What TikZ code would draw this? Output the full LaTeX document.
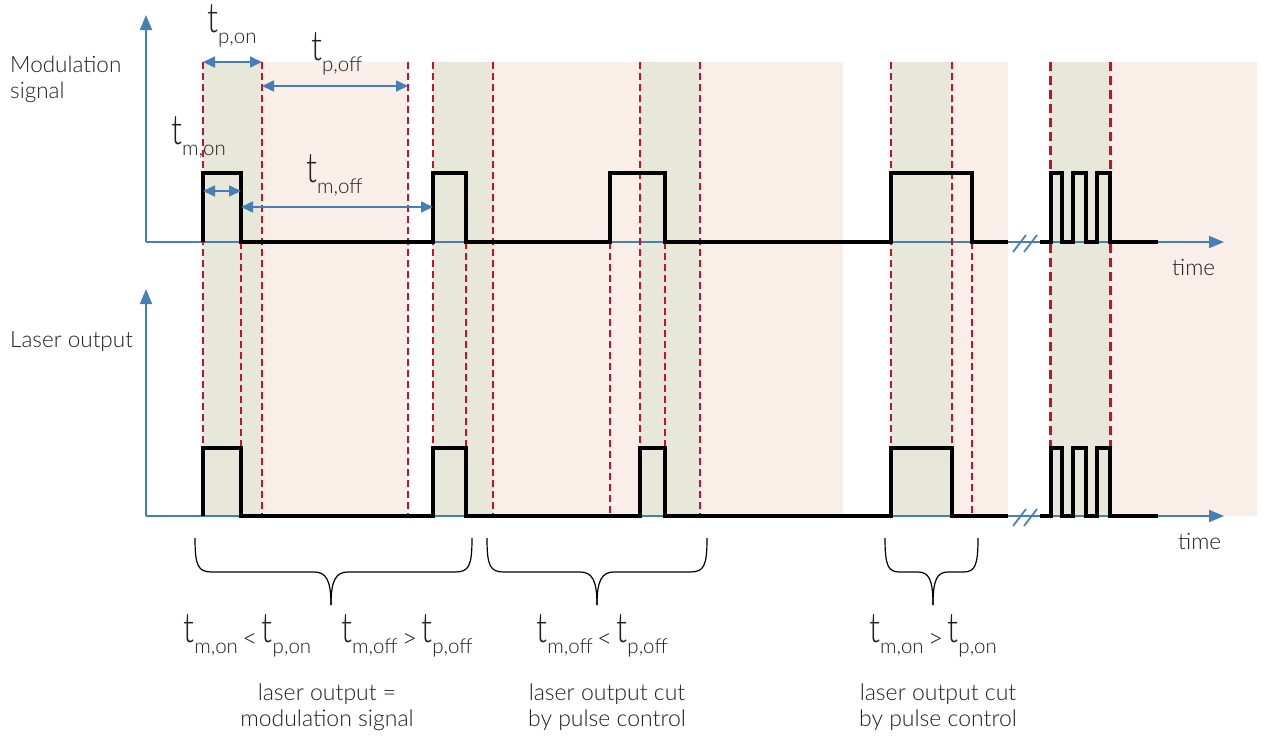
\documentclass[tikz,border=0pt]{standalone}
\usepackage{fontspec}
\IfFontExistsTF{Lato Light}{\setmainfont{Lato Light}}{\setmainfont{Lato}}
\usetikzlibrary{arrows.meta}
\definecolor{bandg}{RGB}{232,232,218}
\definecolor{bandp}{RGB}{250,238,232}
\definecolor{dred}{RGB}{200,16,46}
\definecolor{axblue}{RGB}{70,127,182}
\definecolor{txt}{RGB}{30,30,30}
\newcommand\tsub[1]{{\fontsize{32}{32}\selectfont\scalebox{1}[1.3]{t}}\raisebox{-11pt}{\fontsize{20.5}{20.5}\selectfont #1}}
\newcommand\rel[1]{{\fontsize{26}{26}\selectfont\,\raisebox{-5pt}{#1}\,}}
\begin{document}
\begin{tikzpicture}[x=1pt,y=-1pt,
 axis/.style={draw=axblue,line width=1.7pt,-{Triangle[length=15pt,width=12pt]}},
 dim/.style={draw=axblue,line width=1.7pt,{Triangle[length=12pt,width=11pt]}-{Triangle[length=12pt,width=11pt]}},
 rdash/.style={draw=dred,line width=2.2pt,dash pattern=on 7pt off 4pt},
 rdashthick/.style={draw=dred,line width=3pt,dash pattern=on 9pt off 5pt},
 sig/.style={draw=black,line width=3.5pt,line join=miter},
 brace/.style={draw=black,line width=1.2pt},
 lab/.style={inner sep=0pt,text=txt,font=\fontsize{22.5}{22.5}\selectfont},
 body/.style={inner sep=0pt,text=txt,font=\fontsize{23}{23}\selectfont},
 brk/.style={draw=axblue,line width=1.7pt}]
\useasboundingbox (0,0) rectangle (1263,740);
% bands
\fill[bandg] (203,62) rectangle (262,516);
\fill[bandp] (262,62) rectangle (408,516);
\fill[bandg] (433,62) rectangle (493,516);
\fill[bandp] (493,62) rectangle (640,516);
\fill[bandg] (640,62) rectangle (700,516);
\fill[bandp] (700,62) rectangle (843,516);
\fill[bandg] (891,62) rectangle (952,516);
\fill[bandp] (952,62) rectangle (1008,516);
\fill[bandg] (1050,62) rectangle (1110,516);
\fill[bandp] (1110,62) rectangle (1257,516);
% axes
\coordinate (o1) at (146,242);
\coordinate (y1) at (146,15);
\coordinate (x1) at (1224,242);
\coordinate (o2) at (146,516);
\coordinate (y2) at (146,289);
\coordinate (x2) at (1224,516);
\draw[axis] (o1) -- (y1);
\draw[axis] (o1) -- (x1);
\draw[axis] (o2) -- (y2);
\draw[axis] (o2) -- (x2);
% axis breaks
\draw[brk] (1013,252) -- (1026,235);
\draw[brk] (1024,252) -- (1037,235);
\draw[brk] (1013,526) -- (1026,509);
\draw[brk] (1024,526) -- (1037,509);
% dashed lines
\foreach \xx in {203,262,408,433,493,640,700,891,952}
  \draw[rdash] (\xx,62) -- (\xx,516);
\foreach \xx in {241,466,610,665,972}
  \draw[rdash] (\xx,242) -- (\xx,516);
\foreach \xx in {1050,1110}
  \draw[rdashthick] (\xx,62) -- (\xx,516);
% modulation signal
\draw[sig] (203,242) -- (203,173) -- (241,173) -- (241,242) -- (433,242) -- (433,173) -- (466,173) -- (466,242)
  -- (610,242) -- (610,173) -- (665,173) -- (665,242) -- (891,242) -- (891,173) -- (972,173) -- (972,242) -- (1008,242);
\draw[sig] (1040,242) -- (1051,242) -- (1051,173) -- (1062,173) -- (1062,242) -- (1073,242) -- (1073,173) -- (1086,173)
  -- (1086,242) -- (1097,242) -- (1097,173) -- (1110,173) -- (1110,242) -- (1158,242);
% laser output
\draw[sig] (203,516) -- (203,448) -- (241,448) -- (241,516) -- (433,516) -- (433,448) -- (466,448) -- (466,516)
  -- (640,516) -- (640,448) -- (665,448) -- (665,516) -- (891,516) -- (891,448) -- (952,448) -- (952,516) -- (1008,516);
\draw[sig] (1040,516) -- (1051,516) -- (1051,448) -- (1062,448) -- (1062,516) -- (1073,516) -- (1073,448) -- (1086,448)
  -- (1086,516) -- (1097,516) -- (1097,448) -- (1110,448) -- (1110,516) -- (1158,516);
% dimension arrows
\coordinate (pon1) at (203,62);  \coordinate (pon2) at (262,62);
\coordinate (poff1) at (262,86); \coordinate (poff2) at (408,86);
\coordinate (mon1) at (203,191); \coordinate (mon2) at (241,191);
\coordinate (moff1) at (241,207); \coordinate (moff2) at (433,207);
\draw[dim] (pon1) -- (pon2);
\draw[dim] (poff1) -- (poff2);
\draw[dim] (mon1) -- (mon2);
\draw[dim] (moff1) -- (moff2);
% labels
\node[lab,anchor=base west] (lmod) at (10,72) {Modulation};
\node[lab,anchor=base west] (lsig) at (10,98) {signal};
\node[lab,anchor=base west] (llas) at (10,347) {Laser output};
\node[lab,anchor=base west] (time1) at (1172,275) {time};
\node[lab,anchor=base west] (time2) at (1178,549) {time};
\node[lab,anchor=base west] (tpon) at (207,32) {\tsub{p,on}};
\node[lab,anchor=base west] (tpoff) at (311,60) {\tsub{p,off}};
\node[lab,anchor=base west] (tmon) at (171,144) {\tsub{m,on}};
\node[lab,anchor=base west] (tmoff) at (306,182) {\tsub{m,off}};
% braces
\draw[brace] (195,538) .. controls (195,566) and (198,572) .. (212,572) -- (314,572)
  .. controls (326,572) and (331,580) .. (331,605);
\draw[brace] (472,538) .. controls (472,566) and (469,572) .. (455,572) -- (348,572)
  .. controls (336,572) and (331,580) .. (331,605);
\draw[brace] (487,538) .. controls (487,566) and (490,572) .. (504,572) -- (580,572)
  .. controls (592,572) and (597,580) .. (597,605);
\draw[brace] (707,538) .. controls (707,566) and (704,572) .. (690,572) -- (614,572)
  .. controls (602,572) and (597,580) .. (597,605);
\draw[brace] (885,538) .. controls (885,566) and (888,572) .. (900,572) -- (918,572)
  .. controls (929,572) and (933,580) .. (933,605);
\draw[brace] (978,538) .. controls (978,566) and (975,572) .. (963,572) -- (948,572)
  .. controls (937,572) and (933,580) .. (933,605);
% conditions
\node[lab,anchor=base] (c1) at (328,642) {\tsub{m,on}\rel{<}\tsub{p,on}\hspace{30pt}\tsub{m,off}\rel{>}\tsub{p,off}};
\node[lab,anchor=base] (c2) at (602,642) {\tsub{m,off}\rel{<}\tsub{p,off}};
\node[lab,anchor=base] (c3) at (933,642) {\tsub{m,on}\rel{>}\tsub{p,on}};
\node[body,anchor=base] (d1a) at (327,700) {laser output =};
\node[body,anchor=base] (d1b) at (327,726) {modulation signal};
\node[body,anchor=base] (d2a) at (607,700) {laser output cut};
\node[body,anchor=base] (d2b) at (607,726) {by pulse control};
\node[body,anchor=base] (d3a) at (938,700) {laser output cut};
\node[body,anchor=base] (d3b) at (938,726) {by pulse control};
\end{tikzpicture}
\end{document}
